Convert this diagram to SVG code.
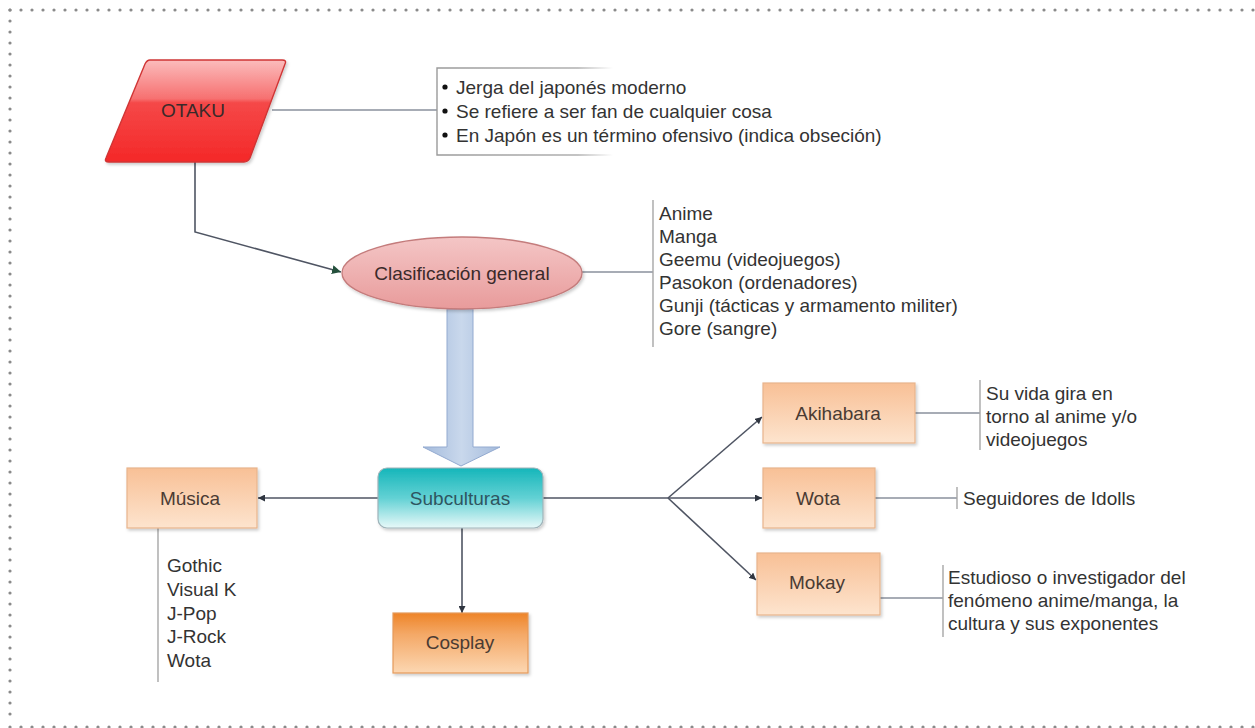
<svg xmlns="http://www.w3.org/2000/svg" width="1255" height="728" viewBox="0 0 1255 728">
<style>
  text { font-family: "Liberation Sans", Arial, sans-serif; font-size: 19px; fill: #333; }
  .lbl { text-anchor: middle; }
  .node { fill: #4a3b33; }
  .sub { fill: #2e5560; }
  .conn { stroke: #4f5563; stroke-width: 1.6; fill: none; }
  .thin { stroke: #8a909c; stroke-width: 1.4; fill: none; }
  .brk { stroke: #a6a6a6; stroke-width: 1.4; fill: none; }
  .dots { stroke: #8a8a8a; stroke-width: 3.2; stroke-linecap: round; stroke-dasharray: 0 11; fill: none; }
  .peach { fill: url(#gPeach); stroke: #e8b48c; stroke-width: 1.2; }
</style>
<defs>
  <linearGradient id="gRed" x1="0" y1="0" x2="0" y2="1">
    <stop offset="0" stop-color="#fbbcbc"/>
    <stop offset="0.38" stop-color="#f77070"/>
    <stop offset="0.42" stop-color="#f54848"/>
    <stop offset="1" stop-color="#f42828"/>
  </linearGradient>
  <linearGradient id="gPink" x1="0" y1="0" x2="0" y2="1">
    <stop offset="0" stop-color="#f4c6c6"/>
    <stop offset="1" stop-color="#e89b9b"/>
  </linearGradient>
  <linearGradient id="gTeal" x1="0" y1="0" x2="0" y2="1">
    <stop offset="0" stop-color="#16b6ba"/>
    <stop offset="0.5" stop-color="#62d1d4"/>
    <stop offset="1" stop-color="#e8f9f9"/>
  </linearGradient>
  <linearGradient id="gPeach" x1="0" y1="0" x2="0" y2="1">
    <stop offset="0" stop-color="#f8c096"/>
    <stop offset="1" stop-color="#fde4ce"/>
  </linearGradient>
  <linearGradient id="gOrange" x1="0" y1="0" x2="0" y2="1">
    <stop offset="0" stop-color="#ee8428"/>
    <stop offset="0.35" stop-color="#f4a866"/>
    <stop offset="1" stop-color="#fcd7b2"/>
  </linearGradient>
  <linearGradient id="gBlue" x1="0" y1="0" x2="1" y2="0">
    <stop offset="0" stop-color="#a4bbdc"/>
    <stop offset="0.5" stop-color="#c9d8ec"/>
    <stop offset="1" stop-color="#a4bbdc"/>
  </linearGradient>
  <linearGradient id="gFade" x1="0" y1="0" x2="1" y2="0">
    <stop offset="0" stop-color="#9a9a9a"/>
    <stop offset="0.8" stop-color="#b0b0b0"/>
    <stop offset="1" stop-color="#b0b0b0" stop-opacity="0"/>
  </linearGradient>
  <filter id="sh" x="-10%" y="-10%" width="125%" height="130%">
    <feDropShadow dx="1.5" dy="2" stdDeviation="1.5" flood-color="#000" flood-opacity="0.2"/>
  </filter>
  <marker id="arr" viewBox="0 0 10 10" refX="10" refY="5" markerWidth="7" markerHeight="7" orient="auto" markerUnits="userSpaceOnUse">
    <path d="M0,0 L10,5 L0,10 z" fill="#2f3540"/>
  </marker>
  <marker id="arrG" viewBox="0 0 10 10" refX="10" refY="5" markerWidth="9" markerHeight="9" orient="auto" markerUnits="userSpaceOnUse">
    <path d="M0,0 L10,5 L0,10 z" fill="#24503c"/>
  </marker>
</defs>

<rect width="1255" height="728" fill="#ffffff"/>

<!-- dotted frame -->
<g id="frame">
  <line class="dots" x1="10" y1="10" x2="1255" y2="10"/>
  <line class="dots" x1="10" y1="10" x2="10" y2="720"/>
  <line class="dots" x1="10" y1="727" x2="1255" y2="727"/>
</g>

<!-- connectors -->
<g id="connectors">
  <line class="thin" x1="272" y1="110" x2="437" y2="110"/>
  <polyline class="conn" points="195,162 195,232 341,272" marker-end="url(#arrG)"/>
  <line class="thin" x1="582" y1="272" x2="653" y2="272"/>
  <line class="conn" x1="378" y1="498" x2="258" y2="498" marker-end="url(#arr)"/>
  <line class="conn" x1="462" y1="528" x2="462" y2="613" marker-end="url(#arr)"/>
  <line class="conn" x1="543" y1="498" x2="668" y2="498"/>
  <line class="conn" x1="668" y1="498" x2="762" y2="417" marker-end="url(#arr)"/>
  <line class="conn" x1="668" y1="498" x2="762" y2="498" marker-end="url(#arr)"/>
  <line class="conn" x1="668" y1="498" x2="756" y2="580" marker-end="url(#arr)"/>
  <line class="thin" x1="915" y1="413" x2="980" y2="413"/>
  <line class="thin" x1="875" y1="498" x2="957" y2="498"/>
  <line class="thin" x1="880" y1="598" x2="943" y2="598"/>
  <!-- big block arrow -->
  <path d="M447,309 H473 V447 H500 L461,466 L423,447 H447 Z" fill="url(#gBlue)" stroke="#93aad0" stroke-width="1"/>
  <!-- brackets -->
  <line class="brk" x1="653" y1="200" x2="653" y2="347"/>
  <line class="brk" x1="980" y1="380" x2="980" y2="450"/>
  <line class="brk" x1="957" y1="487" x2="957" y2="509"/>
  <line class="brk" x1="943" y1="565" x2="943" y2="637"/>
  <line class="brk" x1="158" y1="528" x2="158" y2="682"/>
</g>

<g id="otaku">
  <path d="M150,60 H282 Q287,60 285,64 L250,158 Q248,162 244,162 H109 Q104,162 106,158 L145,64 Q147,60 150,60 Z" fill="url(#gRed)" stroke="#d03535" stroke-width="1.4" filter="url(#sh)"/>
  <text class="lbl node" x="193" y="117" style="fill:#3a2a2a">OTAKU</text>
</g>

<g id="otaku-notes">
  <path d="M613,68 H437 V155 H613" fill="none" stroke="url(#gFade)" stroke-width="1.4"/>
  <circle cx="445" cy="87" r="2.6" fill="#111"/>
  <circle cx="445" cy="111" r="2.6" fill="#111"/>
  <circle cx="445" cy="135" r="2.6" fill="#111"/>
  <text x="456" y="94">Jerga del japonés moderno</text>
  <text x="456" y="118">Se refiere a ser fan de cualquier cosa</text>
  <text x="456" y="142">En Japón es un término ofensivo (indica obseción)</text>
</g>

<g id="clasificacion">
  <ellipse cx="462" cy="273" rx="120" ry="36" fill="url(#gPink)" stroke="#c47c7c" stroke-width="1.3" filter="url(#sh)"/>
  <text class="lbl node" x="462" y="280" style="fill:#3b2a2a">Clasificación general</text>
</g>

<g id="clasificacion-list">
  <text x="659" y="220">Anime</text>
  <text x="659" y="243">Manga</text>
  <text x="659" y="266">Geemu (videojuegos)</text>
  <text x="659" y="289">Pasokon (ordenadores)</text>
  <text x="659" y="312">Gunji (tácticas y armamento militer)</text>
  <text x="659" y="335">Gore (sangre)</text>
</g>

<g id="subculturas">
  <rect x="378" y="468" width="165" height="60" rx="9" fill="url(#gTeal)" stroke="#9fb4ba" stroke-width="1.2" filter="url(#sh)"/>
  <text class="lbl sub" x="460" y="505">Subculturas</text>
</g>

<g id="musica">
  <rect class="peach" x="127" y="468" width="130" height="60" filter="url(#sh)"/>
  <text class="lbl node" x="190" y="505">Música</text>
</g>

<g id="musica-list">
  <text x="167" y="572">Gothic</text>
  <text x="167" y="596">Visual K</text>
  <text x="167" y="620">J-Pop</text>
  <text x="167" y="643">J-Rock</text>
  <text x="167" y="667">Wota</text>
</g>

<g id="cosplay">
  <rect x="393" y="613" width="135" height="60" fill="url(#gOrange)" stroke="#e59a5a" stroke-width="1.2" filter="url(#sh)"/>
  <text class="lbl node" x="460" y="649">Cosplay</text>
</g>

<g id="akihabara">
  <rect class="peach" x="763" y="383" width="152" height="60" filter="url(#sh)"/>
  <text class="lbl node" x="838" y="420">Akihabara</text>
</g>

<g id="akihabara-note">
  <text x="986" y="400">Su vida gira en</text>
  <text x="986" y="423">torno al anime y/o</text>
  <text x="986" y="446">videojuegos</text>
</g>

<g id="wota">
  <rect class="peach" x="763" y="468" width="112" height="60" filter="url(#sh)"/>
  <text class="lbl node" x="818" y="505">Wota</text>
</g>

<g id="wota-note">
  <text x="963" y="505">Seguidores de Idolls</text>
</g>

<g id="mokay">
  <rect class="peach" x="757" y="553" width="123" height="62" filter="url(#sh)"/>
  <text class="lbl node" x="817" y="589">Mokay</text>
</g>

<g id="mokay-note">
  <text x="948" y="584">Estudioso o investigador del</text>
  <text x="948" y="607">fenómeno anime/manga, la</text>
  <text x="948" y="630">cultura y sus exponentes</text>
</g>
</svg>
